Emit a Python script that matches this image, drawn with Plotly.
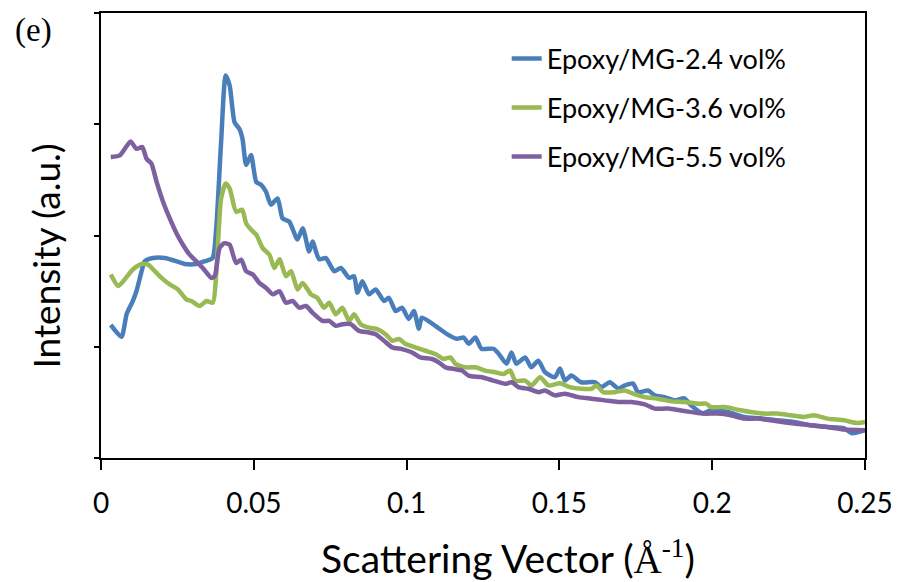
import plotly.graph_objects as go

# Scattering vector q (1/Angstrom) and intensity (a.u.)
blue_q = [0.0032,0.0067,0.0084,0.0104,0.0116,0.0133,0.0143,0.0170,0.0209,0.0247,0.0274,0.0312,0.0339,0.0365,0.0377,0.0393,0.0408,0.0421,0.0437,0.0453,0.0463,0.0475,0.0491,0.0508,0.0524,0.0540,0.0556,0.0578,0.0594,0.0616,0.0643,0.0660,0.0681,0.0692,0.0714,0.0736,0.0763,0.0785,0.0812,0.0828,0.0839,0.0855,0.0877,0.0899,0.0926,0.0942,0.0964,0.0985,0.1007,0.1024,0.1040,0.1050,0.1094,0.1131,0.1164,0.1187,0.1203,0.1225,0.1245,0.1284,0.1301,0.1327,0.1343,0.1359,0.1388,0.1408,0.1431,0.1453,0.1485,0.1502,0.1518,0.1539,0.1571,0.1616,0.1637,0.1665,0.1692,0.1714,0.1741,0.1757,0.1790,0.1812,0.1844,0.1877,0.1909,0.1931,0.1969,0.1995,0.2050,0.2105,0.2158,0.2213,0.2268,0.2321,0.2377,0.2431,0.2458,0.2500]
blue_i = [1.196,1.089,1.295,1.411,1.500,1.679,1.768,1.797,1.797,1.768,1.744,1.744,1.768,1.797,2.065,2.839,3.438,3.348,3.018,2.958,2.869,2.634,2.723,2.482,2.455,2.393,2.277,2.333,2.154,2.125,1.964,2.065,1.857,1.946,1.786,1.797,1.679,1.708,1.619,1.634,1.485,1.589,1.471,1.515,1.411,1.440,1.321,1.351,1.250,1.321,1.161,1.262,1.188,1.116,1.071,1.083,1.027,1.083,0.982,0.982,0.938,0.848,0.949,0.848,0.904,0.815,0.875,0.771,0.726,0.804,0.696,0.741,0.681,0.681,0.637,0.681,0.625,0.652,0.670,0.592,0.607,0.563,0.547,0.518,0.536,0.473,0.402,0.429,0.413,0.369,0.357,0.339,0.324,0.295,0.279,0.268,0.223,0.250]

green_q = [0.0032,0.0056,0.0078,0.0105,0.0133,0.0154,0.0176,0.0198,0.0225,0.0252,0.0279,0.0296,0.0323,0.0345,0.0366,0.0377,0.0393,0.0408,0.0421,0.0442,0.0462,0.0475,0.0497,0.0508,0.0529,0.0551,0.0567,0.0584,0.0605,0.0622,0.0643,0.0660,0.0687,0.0708,0.0730,0.0747,0.0768,0.0790,0.0812,0.0828,0.0850,0.0877,0.0904,0.0931,0.0953,0.0975,0.0997,0.1029,0.1062,0.1094,0.1121,0.1143,0.1160,0.1192,0.1225,0.1257,0.1290,0.1317,0.1339,0.1355,0.1388,0.1409,0.1437,0.1464,0.1502,0.1534,0.1572,0.1605,0.1621,0.1643,0.1681,0.1714,0.1741,0.1779,0.1822,0.1866,0.1909,0.1953,0.1980,0.1996,0.2040,0.2083,0.2126,0.2170,0.2213,0.2257,0.2300,0.2333,0.2377,0.2431,0.2474,0.2500]
green_i = [1.649,1.545,1.607,1.696,1.744,1.738,1.679,1.619,1.560,1.515,1.426,1.411,1.366,1.411,1.396,1.652,2.333,2.467,2.422,2.214,2.232,2.110,2.036,2.009,1.887,1.828,1.708,1.786,1.634,1.679,1.515,1.574,1.471,1.440,1.351,1.396,1.292,1.351,1.232,1.292,1.203,1.172,1.158,1.113,1.054,1.069,1.024,0.994,0.964,0.935,0.890,0.904,0.846,0.815,0.815,0.786,0.771,0.756,0.786,0.696,0.696,0.652,0.726,0.652,0.672,0.637,0.622,0.622,0.652,0.592,0.592,0.607,0.578,0.547,0.533,0.509,0.503,0.488,0.488,0.458,0.458,0.435,0.413,0.399,0.399,0.384,0.369,0.384,0.354,0.339,0.315,0.324]

purple_q = [0.0032,0.0062,0.0078,0.0097,0.0116,0.0135,0.0149,0.0165,0.0182,0.0203,0.0225,0.0247,0.0268,0.0290,0.0312,0.0333,0.0361,0.0372,0.0388,0.0404,0.0421,0.0442,0.0459,0.0475,0.0497,0.0518,0.0540,0.0562,0.0584,0.0605,0.0627,0.0649,0.0671,0.0692,0.0725,0.0747,0.0768,0.0790,0.0817,0.0844,0.0877,0.0899,0.0926,0.0953,0.0985,0.1018,0.1045,0.1083,0.1105,0.1127,0.1154,0.1181,0.1203,0.1246,0.1284,0.1323,0.1344,0.1366,0.1399,0.1431,0.1453,0.1485,0.1518,0.1562,0.1605,0.1649,0.1692,0.1735,0.1779,0.1812,0.1855,0.1909,0.1969,0.2018,0.2061,0.2105,0.2148,0.2213,0.2268,0.2322,0.2377,0.2431,0.2500]
purple_i = [2.705,2.721,2.779,2.846,2.779,2.795,2.690,2.646,2.482,2.304,2.154,2.021,1.917,1.828,1.768,1.708,1.619,1.634,1.887,1.931,1.917,1.753,1.783,1.679,1.649,1.574,1.529,1.471,1.500,1.396,1.411,1.351,1.366,1.306,1.232,1.232,1.188,1.203,1.203,1.143,1.128,1.113,1.054,0.994,0.979,0.949,0.904,0.890,0.860,0.815,0.801,0.786,0.741,0.726,0.696,0.667,0.681,0.637,0.622,0.592,0.607,0.563,0.578,0.547,0.533,0.518,0.503,0.503,0.482,0.444,0.444,0.422,0.399,0.399,0.384,0.354,0.354,0.330,0.310,0.295,0.279,0.256,0.250]

series_names = ["Epoxy/MG-2.4 vol%", "Epoxy/MG-3.6 vol%", "Epoxy/MG-5.5 vol%"]
series_colors = ["#4A7EBB", "#98B954", "#7D60A0"]

x_tickvals = [0, 0.05, 0.1, 0.15, 0.2, 0.25]
x_ticktext = ["0", "0.05", "0.1", "0.15", "0.2", "0.25"]
y_tickvals = [0, 1, 2, 3, 4]

FONT = "Lato, 'Open Sans', sans-serif"

fig = go.Figure()
for k, (q, inten) in enumerate([(blue_q, blue_i), (green_q, green_i), (purple_q, purple_i)]):
    fig.add_trace(go.Scatter(
        x=q, y=inten, mode="lines", name=series_names[k],
        legendgroup=f"g{k}",
        line=dict(color=series_colors[k], width=4.5, shape="spline", smoothing=0.6),
    ))

fig.update_layout(
    width=904, height=582,
    margin=dict(l=101, r=36, t=11, b=124),
    paper_bgcolor="white", plot_bgcolor="white",
    font=dict(family=FONT, color="black"),
    showlegend=True,
    legend=dict(
        x=0.531, y=0.952, xanchor="left", yanchor="top",
        font=dict(family=FONT, size=27, color="black"),
        tracegroupgap=11, bgcolor="rgba(0,0,0,0)",
        traceorder="grouped",
    ),
    xaxis=dict(
        range=[0, 0.25], tickvals=x_tickvals, ticktext=x_ticktext,
        ticks="outside", ticklen=10, tickwidth=2, tickcolor="black",
        showline=True, linewidth=2, linecolor="black", mirror=True,
        showgrid=False, zeroline=False,
        tickfont=dict(family=FONT, size=28, color="black"),
        ticklabelstandoff=9,
    ),
    yaxis=dict(
        range=[0, 4], tickvals=y_tickvals, showticklabels=False,
        ticks="outside", ticklen=5, tickwidth=2, tickcolor="black",
        showline=True, linewidth=2, linecolor="black", mirror=True,
        showgrid=False, zeroline=False,
    ),
    annotations=[
        dict(text="(e)", xref="paper", yref="paper", x=-0.1147, y=0.96,
             xanchor="left", yanchor="middle", showarrow=False,
             font=dict(family="Liberation Serif, 'Times New Roman', serif", size=33, color="black")),
        dict(text="Intensity (a.u.)", xref="paper", yref="paper", x=-0.072, y=0.455,
             xanchor="center", yanchor="middle", textangle=-90, showarrow=False,
             font=dict(family=FONT, size=37, color="black")),
        dict(text="Scattering Vector (<span style='font-family:Liberation Serif'>Å<sup>-1</sup></span>)",
             xref="paper", yref="paper", x=0.533, y=-0.222,
             xanchor="center", yanchor="middle", showarrow=False,
             font=dict(family=FONT, size=39, color="black")),
    ],
)

fig.write_html("out.html")
